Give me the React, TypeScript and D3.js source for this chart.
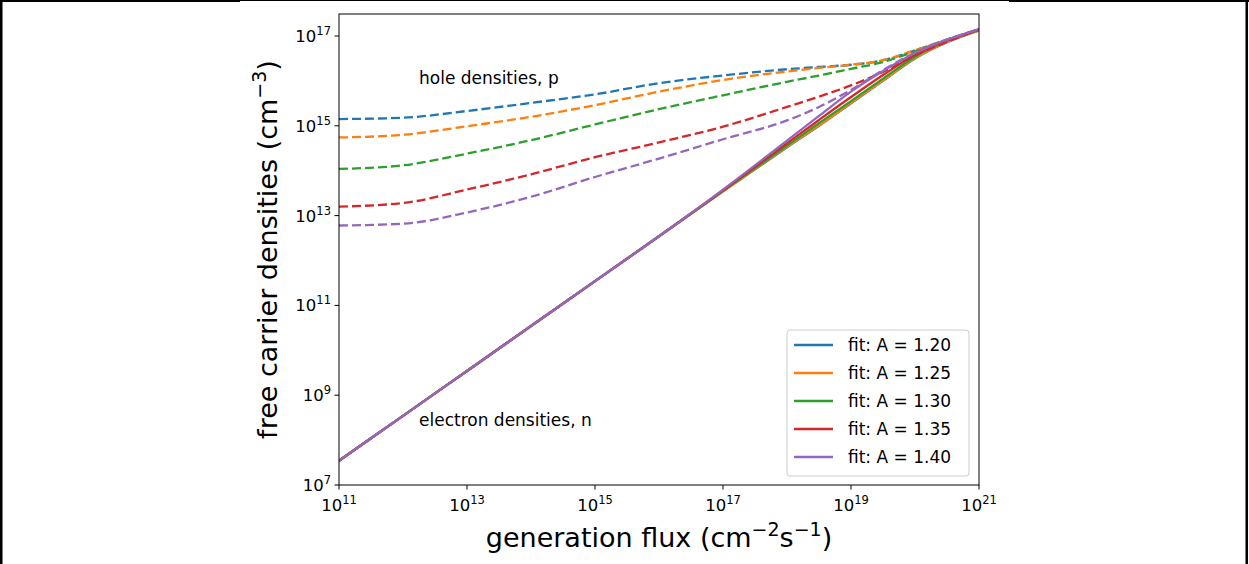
import React from "react";
import * as d3 from "d3";

// log10 of generation flux (cm^-2 s^-1)
const fluxExp = [11, 12, 13, 14, 15, 16, 17, 18, 18.5, 19, 19.5, 20, 20.5, 21];
const aLabels = ["1.20", "1.25", "1.30", "1.35", "1.40"];
const colors = ["#1f77b4", "#ff7f0e", "#2ca02c", "#d62728", "#9467bd"];

// log10 of hole densities p (cm^-3), dashed
const holeA120 = [15.15, 15.18, 15.33, 15.51, 15.7, 15.95, 16.12, 16.26, 16.31, 16.36, 16.46, 16.68, 16.92, 17.15];
const holeA125 = [14.74, 14.8, 14.99, 15.2, 15.46, 15.76, 16.02, 16.21, 16.29, 16.36, 16.46, 16.68, 16.92, 17.15];
const holeA130 = [14.04, 14.12, 14.38, 14.68, 15.03, 15.37, 15.68, 15.98, 16.12, 16.27, 16.42, 16.66, 16.91, 17.15];
const holeA135 = [13.2, 13.28, 13.58, 13.92, 14.3, 14.63, 14.98, 15.42, 15.65, 15.9, 16.2, 16.57, 16.87, 17.15];
const holeA140 = [12.78, 12.82, 13.07, 13.42, 13.86, 14.27, 14.7, 15.12, 15.42, 15.8, 16.24, 16.63, 16.92, 17.15];

// log10 of electron densities n (cm^-3), solid
const elecA120 = [7.54, 8.54, 9.54, 10.54, 11.54, 12.54, 13.54, 14.52, 15.0, 15.5, 16.0, 16.5, 16.86, 17.12];
const elecA125 = [7.54, 8.54, 9.54, 10.54, 11.54, 12.54, 13.54, 14.53, 15.01, 15.51, 16.01, 16.51, 16.87, 17.12];
const elecA130 = [7.54, 8.54, 9.54, 10.54, 11.54, 12.54, 13.55, 14.56, 15.06, 15.55, 16.05, 16.54, 16.89, 17.13];
const elecA135 = [7.54, 8.54, 9.54, 10.54, 11.54, 12.54, 13.56, 14.61, 15.13, 15.64, 16.13, 16.58, 16.9, 17.14];
const elecA140 = [7.54, 8.54, 9.54, 10.54, 11.54, 12.54, 13.58, 14.67, 15.22, 15.76, 16.22, 16.62, 16.92, 17.15];

const xTickExp = [11, 13, 15, 17, 19, 21];
const yTickExp = [7, 9, 11, 13, 15, 17];

const holes = [holeA120, holeA125, holeA130, holeA135, holeA140];
const elecs = [elecA120, elecA125, elecA130, elecA135, elecA140];

const W = 1249;
const H = 564;
const L = 339, R = 979, T = 14, B = 485;
const FONT = "DejaVu Sans";

export default function App() {
  const x = d3.scaleLog().domain([1e11, 1e21]).range([L, R]);
  const y = d3.scaleLog().domain([1e7, Math.pow(10, 17.49)]).range([B, T]);
  const line = d3
    .line<[number, number]>()
    .x((d) => x(d[0]))
    .y((d) => y(d[1]))
    .curve(d3.curveMonotoneX);
  const pts = (arr: number[]) =>
    fluxExp.map((g, i) => [Math.pow(10, g), Math.pow(10, arr[i])] as [number, number]);

  const legX = 787, legY = 330, legW = 182, legH = 146;
  return (
    <div style={{ position: "fixed", left: 0, top: 0 }}>
      <svg width={W} height={H} style={{ display: "block" }} fontFamily={FONT}>
        <rect x={0} y={0} width={W} height={H} fill="#fff" />
        {/* page border */}
        <rect x={0} y={0} width={2.5} height={H} fill="#000" />
        <rect x={W - 3.5} y={0} width={2.5} height={H} fill="#000" />
        <rect x={0} y={0} width={240} height={2} fill="#000" />
        <rect x={240} y={0} width={769} height={1} fill="#000" />
        <rect x={1009} y={0} width={W - 1009} height={2} fill="#000" />

        <defs>
          <clipPath id="plotclip">
            <rect x={L} y={T} width={R - L} height={B - T} />
          </clipPath>
        </defs>

        <g clipPath="url(#plotclip)">
          {colors.map((c, i) => (
            <g key={i}>
              <path d={line(pts(elecs[i])) || ""} fill="none" stroke={c} strokeWidth={2.3} />
              <path
                d={line(pts(holes[i])) || ""}
                fill="none"
                stroke={c}
                strokeWidth={2.3}
                strokeDasharray="9,4"
              />
            </g>
          ))}
        </g>

        {/* spines */}
        <rect x={L} y={T} width={R - L} height={B - T} fill="none" stroke="#000" strokeWidth={1} />

        {/* x ticks */}
        {xTickExp.map((e) => {
          const px = x(Math.pow(10, e));
          return (
            <g key={"x" + e}>
              <line x1={px} x2={px} y1={B} y2={B + 4.5} stroke="#000" strokeWidth={1} />
              <text x={px} y={511} textAnchor="middle" fontSize={16.5} fill="#000">
                <tspan>10</tspan>
                <tspan dy={-7} fontSize={11.5}>{e}</tspan>
              </text>
            </g>
          );
        })}
        {/* y ticks */}
        {yTickExp.map((e) => {
          const py = y(Math.pow(10, e));
          return (
            <g key={"y" + e}>
              <line x1={L - 4.5} x2={L} y1={py} y2={py} stroke="#000" strokeWidth={1} />
              <text x={331} y={py + 6} textAnchor="end" fontSize={16.5} fill="#000">
                <tspan>10</tspan>
                <tspan dy={-7} fontSize={11.5}>{e}</tspan>
              </text>
            </g>
          );
        })}

        {/* axis labels */}
        <text x={659} y={547} textAnchor="middle" fontSize={27} fill="#000">
          <tspan>generation flux (cm</tspan>
          <tspan dy={-11} fontSize={19}>−2</tspan>
          <tspan dy={11}>s</tspan>
          <tspan dy={-11} fontSize={19}>−1</tspan>
          <tspan dy={11}>)</tspan>
        </text>
        <text
          transform={`translate(277,${(T + B) / 2}) rotate(-90)`}
          textAnchor="middle"
          fontSize={27}
          fill="#000"
        >
          <tspan>free carrier densities (cm</tspan>
          <tspan dy={-11} fontSize={19}>−3</tspan>
          <tspan dy={11}>)</tspan>
        </text>

        {/* annotations */}
        <text x={419} y={84} fontSize={17} fill="#000">hole densities, p</text>
        <text x={419} y={426} fontSize={17} fill="#000">electron densities, n</text>

        {/* legend */}
        <rect
          x={legX}
          y={legY}
          width={legW}
          height={legH}
          rx={3}
          fill="#fff"
          fillOpacity={0.8}
          stroke="#cccccc"
          strokeWidth={1}
        />
        {aLabels.map((a, i) => {
          const ly = 345 + i * 28;
          return (
            <g key={"l" + i}>
              <line x1={794} x2={833} y1={ly} y2={ly} stroke={colors[i]} strokeWidth={2.3} />
              <text x={848} y={ly + 6} fontSize={17} fill="#000">{`fit: A = ${a}`}</text>
            </g>
          );
        })}
      </svg>
    </div>
  );
}
